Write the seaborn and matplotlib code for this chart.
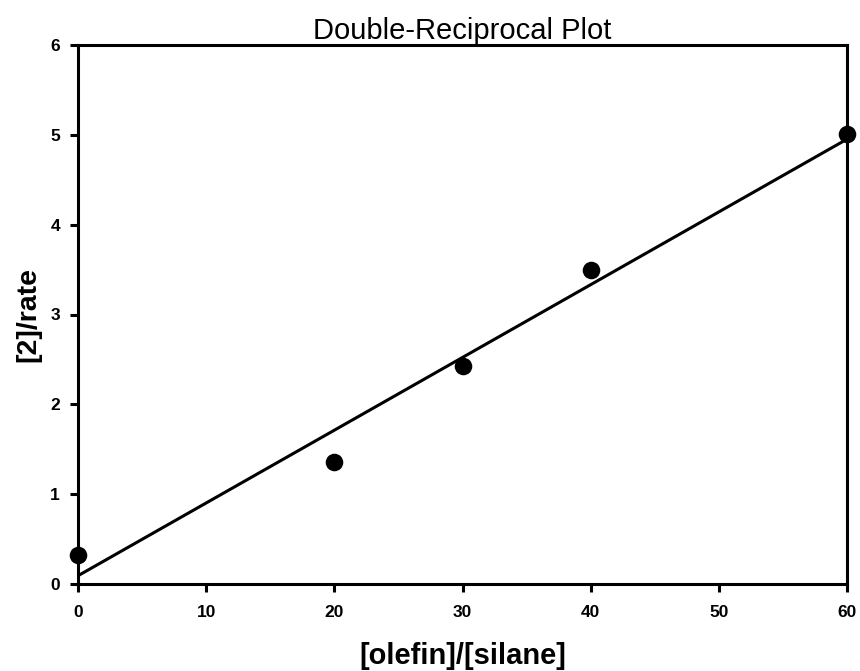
import matplotlib
matplotlib.use("Agg")
import matplotlib.pyplot as plt
import seaborn as sns
import pandas as pd

olefin_silane = [0, 20, 30, 40, 60]
rate_ratio = [0.32, 1.36, 2.43, 3.49, 5.01]
x_ticks = [0, 10, 20, 30, 40, 50, 60]
y_ticks = [0, 1, 2, 3, 4, 5, 6]

df = pd.DataFrame({"x": olefin_silane, "y": rate_ratio})

sns.set_style("ticks")
plt.rcParams["font.family"] = ["Liberation Sans", "DejaVu Sans"]
plt.rcParams["text.color"] = "black"
plt.rcParams["axes.labelcolor"] = "black"

fig = plt.figure(figsize=(8.6, 6.71), dpi=100)
ax = fig.add_axes([78/860, 1-584/671, (847-78)/860, (584-45)/671])

sns.regplot(data=df, x="x", y="y", ax=ax, ci=None, truncate=False,
            scatter_kws=dict(s=160, color="black", alpha=1, zorder=5, clip_on=False, linewidths=0),
            line_kws=dict(color="black", lw=2.2))

ax.set_xlim(0, 60)
ax.set_ylim(0, 6)
ax.set_xticks(x_ticks)
ax.set_yticks(y_ticks)
for s in ax.spines.values():
    s.set_linewidth(2.2)
    s.set_color("black")
ax.tick_params(axis="x", pad=9)
ax.tick_params(direction="out", length=6, width=2.2, labelsize=12.5, colors="black")
ax.tick_params(axis="y", pad=7)
for lab in ax.get_xticklabels() + ax.get_yticklabels():
    lab.set_fontweight("bold")

ax.set_title("Double-Reciprocal Plot", fontsize=21, pad=4, color="black")
ax.set_xlabel("[olefin]/[silane]", fontsize=21, fontweight="bold", labelpad=16)
ax.set_ylabel("[2]/rate", fontsize=20.5, fontweight="bold", labelpad=6)

fig.savefig("out.png", dpi=100)
